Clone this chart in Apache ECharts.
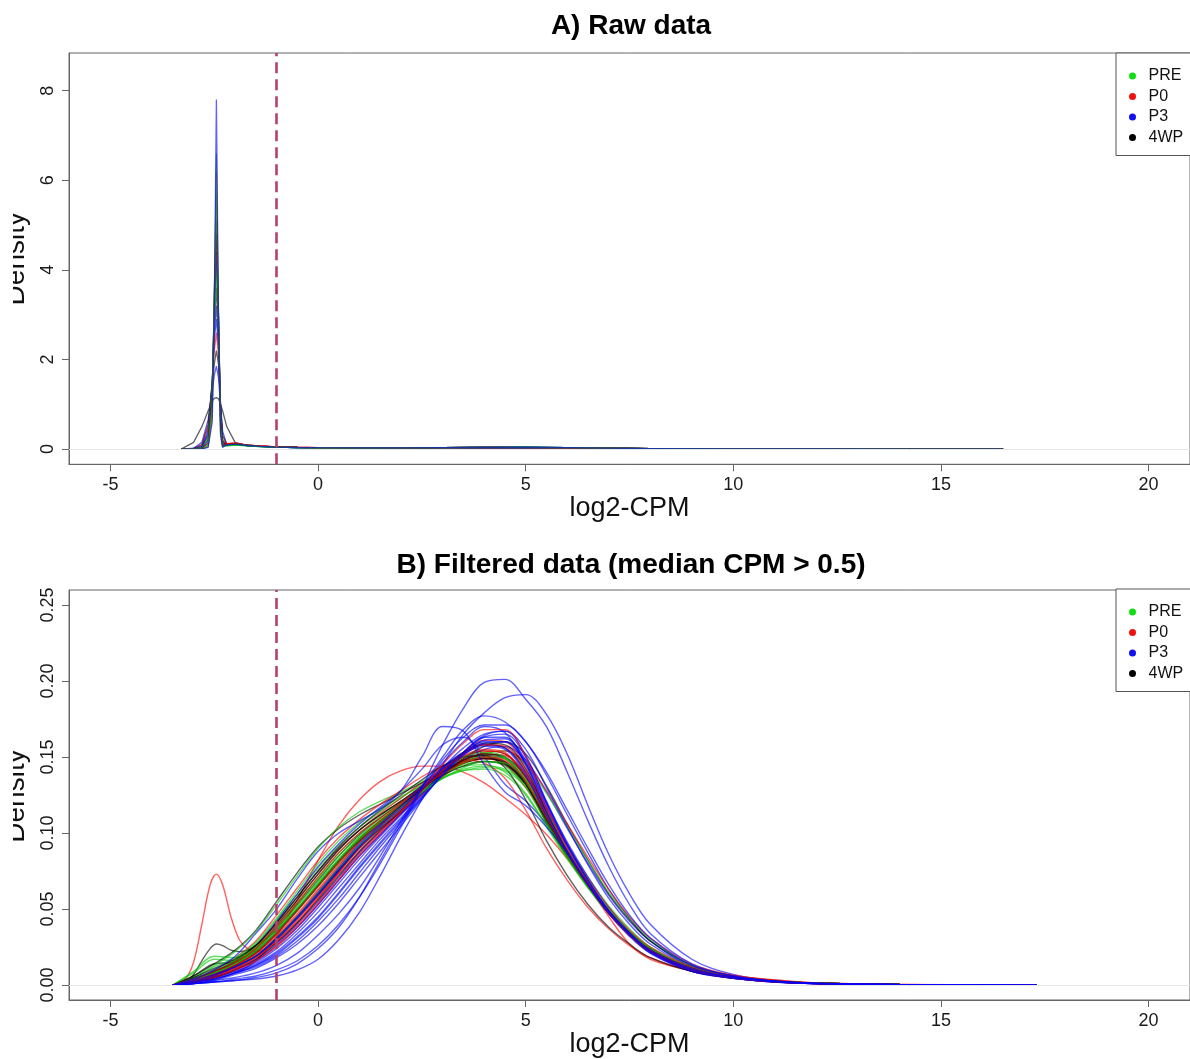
<!DOCTYPE html>
<html><head><meta charset="utf-8">
<script src="https://cdn.jsdelivr.net/npm/echarts@6/dist/echarts.min.js"></script>
<style>html,body{margin:0;padding:0;background:#fff}#c{width:1190px;height:1059px}</style>
</head><body><div id="c"></div>
<script>
// ---------- ticks / labels ----------
const xTicks = [-5, 0, 5, 10, 15, 20];
const yTicksA = [0, 2, 4, 6, 8];
const yTicksB = [0, 0.05, 0.10, 0.15, 0.20, 0.25];
const cutoff = -1;
const groups = ['PRE', 'P0', 'P3', '4WP'];

// ---------- Panel A: raw data (log2-CPM grid + densities) ----------
const xA = [-3.3,-3.0,-2.8,-2.65,-2.55, -2.5,-2.45,-2.4,-2.35,-2.3, -2.2,-2.0,-1.7,-1.4,-1.0, -0.5,0,1,2,3, 4,5,6,7,8, 10,12,14,16.5];
const rawK_wide = [0,.15,.5,.85,1.07, 1.13,1.15,1.12,1.0,.85, .5,.15,.07,.055,.044, .035,.03,.025,.025,.03, .035,.035,.03,.02,.012, .005,.002,.0008,0];
const rawB_185  = [0,.02,.15,.65,1.3, 1.65,1.85,1.6,1.0,.4, .1,.1,.08,.06,.045, .035,.03,.025,.025,.03, .035,.035,.03,.02,.012, .005,.002,.0008,0];
const rawK_22   = [0,.015,.1,.55,1.4, 1.9,2.2,1.9,1.0,.3, .11,.12,.085,.065,.047, .037,.031,.025,.025,.03, .035,.035,.03,.02,.012, .005,.002,.0008,0];
const rawR_26   = [0,.01,.08,.5,1.5, 2.2,2.6,2.1,1.0,.2, .12,.13,.09,.07,.05, .04,.032,.026,.026,.031, .036,.034,.028,.019,.011, .005,.002,.0008,0];
const rawB_29   = [0,.01,.06,.42,1.5, 2.45,2.9,2.3,.95,.18, .09,.11,.08,.06,.045, .035,.03,.025,.025,.03, .035,.035,.03,.02,.012, .005,.002,.0008,0];
const rawB_32   = [0,.008,.05,.35,1.5, 2.6,3.2,2.4,.9,.15, .09,.1,.08,.06,.045, .035,.03,.025,.025,.03, .035,.035,.03,.02,.012, .005,.002,.0008,0];
const rawK_36   = [0,.005,.04,.3,1.45, 2.8,3.6,2.6,.85,.14, .11,.12,.085,.065,.047, .037,.031,.025,.025,.03, .035,.035,.03,.02,.012, .005,.002,.0008,0];
const rawG_39   = [0,.004,.03,.25,1.4, 3.0,3.9,2.7,.8,.12, .08,.1,.075,.058,.044, .035,.03,.025,.025,.03, .035,.035,.03,.02,.012, .005,.002,.0008,0];
const rawG_42   = [0,.003,.025,.22,1.35, 3.1,4.2,2.8,.75,.11, .07,.09,.07,.055,.042, .034,.029,.024,.025,.03, .036,.036,.031,.021,.012, .005,.002,.0008,0];
const rawB_44   = [0,.003,.02,.2,1.3, 3.2,4.4,2.9,.7,.1, .09,.11,.08,.06,.045, .035,.03,.025,.025,.03, .035,.035,.03,.02,.012, .005,.002,.0008,0];
const rawR_48   = [0,.002,.015,.15,1.15, 3.3,4.8,2.95,.65,.09, .12,.13,.09,.07,.05, .04,.032,.026,.026,.031, .036,.034,.028,.019,.011, .005,.002,.0008,0];
const rawK_51   = [0,.002,.012,.13,1.1, 3.4,5.1,3.0,.6,.08, .1,.12,.09,.065,.048, .037,.031,.025,.025,.03, .035,.035,.03,.02,.012, .005,.002,.0008,0];
const rawG_57   = [0,0,.008,.09,1.0, 3.5,5.7,3.1,.5,.06, .07,.09,.07,.055,.042, .034,.029,.024,.025,.03, .036,.036,.031,.021,.012, .005,.002,.0008,0];
const rawR_62   = [0,0,.006,.06,.8, 3.4,6.2,3.0,.4,.05, .12,.13,.09,.07,.05, .04,.032,.026,.026,.031, .036,.034,.028,.019,.011, .005,.002,.0008,0];
const rawG_66   = [0,0,.005,.05,.7, 3.3,6.6,3.0,.35,.045, .09,.11,.08,.06,.045, .035,.03,.025,.025,.03, .035,.035,.03,.02,.012, .005,.002,.0008,0];
const rawB_78   = [0,0,.004,.04,.6, 3.2,7.8,3.0,.3,.04, .09,.11,.08,.06,.045, .035,.03,.025,.025,.03, .035,.035,.03,.02,.012, .005,.002,.0008,0];

const rawCurves = [
  ['4WP', rawK_wide], ['P3', rawB_185], ['4WP', rawK_22], ['P0', rawR_26], ['P3', rawB_29],
  ['P3', rawB_32], ['4WP', rawK_36], ['PRE', rawG_39], ['PRE', rawG_42], ['P3', rawB_44],
  ['P0', rawR_48], ['4WP', rawK_51], ['PRE', rawG_57], ['P0', rawR_62], ['PRE', rawG_66], ['P3', rawB_78]
];

// ---------- Panel B: filtered data ----------
const xB = [-3.5,-3,-2.5,-2,-1.5, -1,-0.5,0,0.5,1, 1.5,2,2.5,3,3.5, 4,4.5,5,5.5,6, 6.5,7,7.5,8,9, 10,11,12,14,17.3];
const xBump = [-3.5,-3.2,-3,-2.8,-2.6, -2.45,-2.3,-2.1,-1.9,-1.7, -1.5,-1,-0.5,0,0.5, 1,1.5,2,2.5,3, 3.5,4,4.5,5,5.5, 6,6.5,7,7.5,8, 9,10,11,12,14, 17.3];

// PRE (green)
const preA = [0,.004,.010,.017,.027, .043,.060,.077,.092,.104, .114,.123,.132,.139,.144, .145,.140,.126,.105,.084, .065,.048,.034,.023,.011, .005,.0025,.0012,.0004,0];
const preB = [0,.005,.012,.018,.028, .044,.062,.080,.095,.107, .116,.124,.131,.137,.141, .142,.138,.125,.104,.083, .064,.047,.033,.022,.011, .005,.0025,.0012,.0004,0];
const preC = [0,.003,.008,.014,.022, .035,.050,.066,.082,.097, .108,.119,.131,.142,.150, .153,.150,.134,.108,.085, .065,.047,.033,.022,.010, .005,.0025,.0012,.0004,0];
const preD = [0,.008,.017,.016,.022, .034,.049,.065,.080,.095, .107,.118,.130,.141,.149, .152,.149,.133,.107,.084, .064,.047,.033,.022,.010, .005,.0025,.0012,.0004,0];
const preE = [0,.004,.009,.015,.024, .038,.054,.071,.087,.100, .111,.120,.129,.136,.141, .143,.141,.130,.109,.087, .067,.049,.035,.024,.011, .005,.0025,.0012,.0004,0];
const preF = [0,.003,.008,.014,.023, .036,.051,.067,.083,.097, .108,.118,.128,.138,.146, .150,.149,.136,.111,.088, .067,.049,.034,.023,.011, .005,.0025,.0012,.0004,0];
const preG = [0,.004,.010,.016,.024, .037,.052,.068,.083,.096, .107,.117,.127,.136,.143, .147,.146,.135,.112,.089, .068,.050,.035,.024,.011, .005,.0025,.0012,.0004,0];
const preH = [0,.009,.019,.018,.025, .038,.054,.070,.085,.098, .109,.119,.128,.136,.142, .144,.142,.132,.113,.092, .071,.052,.037,.025,.012, .0055,.0026,.0012,.0004,0];
const preI = [0,.005,.013,.022,.035, .053,.072,.090,.104,.114, .121,.127,.134,.140,.145, .147,.144,.130,.107,.085, .065,.048,.034,.023,.011, .005,.0025,.0012,.0004,0];
const preJ = [0,.003,.007,.012,.019, .031,.045,.061,.077,.092, .104,.115,.126,.137,.146, .152,.154,.145,.126,.104, .082,.061,.044,.030,.013, .006,.0028,.0013,.0004,0];
// P0 (red)
const p0A = [0,.003,.007,.013,.020, .032,.046,.062,.078,.094, .106,.117,.130,.142,.151, .155,.153,.135,.108,.085, .065,.047,.033,.022,.010, .005,.0025,.0012,.0004,0];
const p0B = [0,.003,.009,.016,.025, .040,.056,.073,.089,.102, .113,.123,.133,.141,.147, .149,.145,.130,.107,.085, .065,.048,.034,.023,.011, .005,.0025,.0012,.0004,0];
const p0C = [0,.002,.005,.010,.016, .025,.038,.053,.069,.085, .099,.113,.127,.141,.153, .161,.160,.143,.114,.088, .066,.047,.033,.022,.010, .005,.0022,.001,.0003,0];
const p0D = [0,.003,.007,.013,.021, .033,.047,.063,.079,.094, .106,.117,.129,.140,.148, .152,.151,.139,.116,.092, .070,.051,.036,.025,.012, .006,.003,.0014,.0005,0];
const p0E = [0,.003,.007,.013,.021, .034,.049,.065,.081,.096, .108,.119,.131,.142,.150, .154,.152,.137,.111,.087, .066,.048,.034,.023,.010, .005,.0025,.0012,.0004,0];
const p0F = [0,.004,.009,.015,.024, .038,.054,.071,.087,.100, .110,.120,.130,.139,.146, .150,.148,.134,.110,.087, .066,.048,.034,.023,.011, .005,.0025,.0012,.0004,0];
const p0G = [0,.002,.006,.011,.018, .029,.043,.058,.074,.090, .103,.115,.128,.141,.152, .158,.157,.140,.112,.087, .066,.047,.033,.022,.010, .005,.0023,.001,.0003,0];
const p0H = [0,.004,.010,.018,.029, .046,.064,.082,.097,.109, .119,.128,.137,.144,.148, .146,.136,.115,.090,.069, .051,.037,.026,.018,.009, .0045,.0022,.001,.0003,0];
const p0I = [0,.002,.006,.011,.018, .029,.042,.057,.073,.088, .101,.113,.125,.137,.147, .153,.154,.146,.128,.106, .084,.063,.045,.031,.014, .0065,.003,.0014,.0004,0];
const p0J = [0,.002,.005,.010,.016, .026,.039,.054,.070,.086, .100,.114,.129,.145,.159, .168,.168,.150,.118,.090, .067,.048,.033,.022,.010, .0047,.0021,.001,.0003,0];
const p0Early = [0,.002,.004,.008,.016, .032,.056,.082,.105,.122, .134,.141,.144,.144,.140, .133,.123,.112,.099,.083, .065,.045,.027,.017,.0095, .006,.0035,.0015,.0004,0];
const p0Bump = [0,.004,.015,.04,.066, .073,.066,.045,.030,.024, .022,.028,.041,.057,.074, .091,.105,.117,.129,.139, .146,.149,.147,.133,.108, .085,.065,.047,.033,.022, .010,.005,.0025,.0012,.0004, 0];
// P3 (blue)
const p3A = [0,.002,.006,.012,.019, .030,.044,.059,.075,.091, .104,.116,.129,.142,.152, .157,.155,.138,.111,.087, .066,.047,.033,.022,.010, .005,.0025,.0012,.0004,0];
const p3B = [0,.002,.005,.009,.014, .022,.034,.048,.064,.080, .096,.110,.125,.140,.153, .163,.163,.145,.114,.088, .066,.047,.032,.021,.009, .0045,.002,.001,.0003,0];
const p3C = [0,.001,.004,.008,.012, .019,.029,.042,.057,.074, .091,.107,.123,.139,.153, .164,.167,.151,.120,.092, .068,.048,.033,.021,.009, .0045,.002,.001,.0003,0];
const p3D = [0,.002,.004,.008,.013, .021,.032,.045,.061,.078, .094,.109,.124,.139,.152, .161,.162,.148,.120,.094, .071,.051,.035,.023,.010, .005,.0022,.001,.0003,0];
const p3E = [0,.002,.005,.009,.015, .024,.036,.051,.067,.083, .098,.112,.126,.140,.152, .160,.160,.145,.117,.091, .068,.049,.034,.022,.010, .005,.0022,.001,.0003,0];
const p3F = [0,.001,.003,.007,.011, .018,.027,.039,.054,.071, .088,.105,.122,.139,.153, .163,.165,.150,.121,.093, .069,.049,.034,.022,.009, .0045,.002,.001,.0003,0];
const p3G = [0,.003,.007,.012,.019, .031,.045,.061,.077,.093, .106,.118,.131,.143,.153, .158,.156,.140,.113,.088, .067,.048,.034,.022,.010, .005,.0024,.0011,.0003,0];
const p3I = [0,.002,.004,.008,.013, .020,.031,.044,.060,.077, .093,.108,.123,.138,.151, .159,.160,.146,.119,.092, .069,.049,.034,.022,.010, .0047,.0021,.001,.0003,0];
const p3J = [0,.002,.006,.011,.017, .027,.040,.055,.071,.087, .101,.115,.130,.146,.160, .170,.166,.146,.116,.089, .067,.048,.033,.022,.010, .0047,.0021,.001,.0003,0];
const p3K = [0,.003,.007,.012,.019, .031,.045,.060,.076,.091, .103,.114,.126,.138,.148, .155,.157,.148,.127,.103, .080,.059,.042,.029,.013, .006,.0028,.0013,.0004,0];
const p3L = [0,.002,.005,.010,.016, .026,.038,.053,.069,.085, .099,.113,.128,.143,.156, .165,.167,.155,.130,.104, .079,.057,.040,.027,.012, .0055,.0025,.0011,.0003,0];
const p3High1 = [0,.001,.002,.003,.005, .008,.014,.024,.038,.058, .082,.106,.130,.158,.182, .199,.201,.188,.170,.140, .108,.078,.053,.034,.014, .006,.0025,.001,.0003,0];
const p3High2 = [0,.001,.002,.003,.004, .006,.010,.017,.030,.048, .072,.098,.122,.145,.165, .179,.189,.191,.178,.152, .118,.086,.060,.040,.017, .007,.003,.0012,.0003,0];
const p3Mid1 = [0,.001,.003,.005,.008, .013,.021,.033,.047,.064, .085,.108,.130,.150,.168, .177,.173,.160,.140,.115, .090,.066,.046,.031,.013, .006,.0025,.001,.0003,0];
const p3Mid2 = [0,.001,.002,.004,.006, .010,.016,.026,.040,.058, .080,.104,.128,.148,.163, .171,.171,.160,.138,.112, .087,.063,.044,.029,.012, .0055,.0024,.001,.0003,0];
const p3Early1 = [0,.004,.010,.019,.034, .050,.070,.088,.100,.108, .116,.128,.150,.170,.167, .145,.127,.118,.104,.087, .066,.048,.034,.023,.011, .005,.0025,.0012,.0004,0];
const p3Early2 = [0,.003,.008,.015,.026, .042,.060,.078,.093,.106, .117,.128,.142,.158,.163, .150,.132,.121,.106,.088, .067,.049,.034,.023,.011, .005,.0025,.0012,.0004,0];
// 4WP (black)
const wpA = [0,.006,.014,.015,.023, .037,.053,.069,.085,.099, .110,.120,.130,.139,.146, .149,.146,.132,.107,.085, .065,.048,.034,.023,.011, .005,.0025,.0012,.0004,0];
const wpB = [0,.003,.008,.014,.022, .035,.050,.066,.082,.096, .108,.118,.130,.141,.150, .154,.152,.137,.110,.086, .066,.048,.034,.023,.010, .005,.0025,.0012,.0004,0];
const wpC = [0,.004,.009,.015,.024, .039,.056,.073,.089,.102, .112,.121,.131,.140,.147, .150,.147,.133,.108,.085, .065,.048,.034,.023,.011, .005,.0025,.0012,.0004,0];
const wpD = [0,.002,.006,.012,.019, .031,.045,.060,.076,.092, .105,.117,.130,.143,.153, .158,.156,.140,.112,.087, .066,.048,.033,.022,.010, .005,.0024,.0011,.0003,0];
const wpE = [0,.003,.007,.013,.021, .034,.049,.065,.081,.095, .107,.118,.129,.140,.148, .152,.150,.137,.112,.088, .067,.049,.034,.023,.011, .005,.0025,.0012,.0004,0];
const wpF = [0,.005,.011,.017,.026, .041,.058,.075,.090,.102, .112,.121,.130,.138,.144, .147,.145,.132,.109,.087, .066,.049,.035,.024,.011, .005,.0025,.0012,.0004,0];
const wpG = [0,.002,.005,.010,.017, .028,.041,.056,.072,.088, .102,.115,.128,.141,.152, .159,.158,.142,.114,.088, .067,.048,.033,.022,.010, .005,.0023,.0011,.0003,0];
const wpH = [0,.006,.014,.023,.036, .055,.074,.091,.103,.112, .119,.126,.133,.140,.146, .149,.146,.132,.108,.086, .066,.048,.034,.023,.011, .005,.0025,.0012,.0004,0];
const wpI = [0,.004,.009,.016,.026, .041,.058,.075,.091,.104, .115,.125,.135,.144,.150, .151,.143,.122,.095,.072, .053,.038,.027,.018,.009, .0045,.0022,.001,.0003,0];
const wpJ = [0,.003,.007,.012,.019, .030,.044,.059,.075,.090, .103,.114,.126,.138,.149, .157,.160,.152,.131,.106, .082,.060,.043,.029,.013, .006,.0027,.0012,.0004,0];
const wpBump = [0,.002,.007,.016,.024, .027,.026,.023,.022,.023, .026,.036,.050,.066,.082, .096,.108,.119,.130,.140, .148,.151,.149,.134,.109, .086,.065,.048,.034,.023, .011,.005,.0025,.0012,.0004, 0];

const filtCurves = [
  ['P3', xB, p3High2], ['PRE', xB, preA], ['P0', xBump, p0Bump], ['4WP', xBump, wpBump], ['P3', xB, p3Mid2],
  ['P0', xB, p0Early], ['P3', xB, p3Early2], ['4WP', xB, wpA], ['PRE', xB, preD], ['P3', xB, p3K],
  ['P0', xB, p0A], ['4WP', xB, wpB], ['PRE', xB, preE], ['P3', xB, p3B], ['P0', xB, p0B],
  ['4WP', xB, wpH], ['PRE', xB, preI], ['P0', xB, p0H], ['P3', xB, p3J], ['4WP', xB, wpJ],
  ['4WP', xB, wpC], ['PRE', xB, preB], ['P3', xB, p3C], ['P0', xB, p0C], ['4WP', xB, wpD],
  ['PRE', xB, preJ], ['P0', xB, p0I], ['P3', xB, p3L], ['4WP', xB, wpI], ['PRE', xB, preH],
  ['PRE', xB, preF], ['P3', xB, p3D], ['P0', xB, p0D], ['4WP', xB, wpE], ['PRE', xB, preC],
  ['P3', xB, p3E], ['P0', xB, p0E], ['4WP', xB, wpF], ['PRE', xB, preG], ['P3', xB, p3F],
  ['P0', xB, p0F], ['4WP', xB, wpG], ['P3', xB, p3G], ['P0', xB, p0G], ['P0', xB, p0J], ['P3', xB, p3I],
  ['P3', xB, p3A], ['P3', xB, p3Early1], ['P3', xB, p3Mid1], ['P3', xB, p3High1]
];

// ---------- styling ----------
const FONT = '"Liberation Sans", Arial, Helvetica, sans-serif';
const lineCol = { 'PRE': 'rgba(0,200,0,0.62)', 'P0': 'rgba(255,0,0,0.62)', 'P3': 'rgba(0,0,255,0.62)', '4WP': 'rgba(0,0,0,0.62)' };
const dotCol = { 'PRE': '#11dd11', 'P0': '#ee1111', 'P3': '#1111ee', '4WP': '#000000' };

const chart = echarts.init(document.getElementById('c'), null, { renderer: 'canvas' });

function curveSeries(grp, xs, ys, idx, smooth, width) {
  return {
    type: 'line', name: grp, xAxisIndex: idx, yAxisIndex: idx,
    data: xs.map((x, i) => [x, ys[i]]),
    showSymbol: false, symbol: 'none', smooth: smooth,
    lineStyle: { color: lineCol[grp], width: width },
    itemStyle: { color: dotCol[grp] },
    silent: true, animation: false, z: 2
  };
}

const series = [];
[0, 1].forEach(idx => {
  series.push({
    type: 'line', name: 'zero' + idx, xAxisIndex: idx, yAxisIndex: idx, data: [], z: 1,
    markLine: { silent: true, symbol: 'none', animation: false, label: { show: false },
      lineStyle: { color: '#e6e6e6', width: 1, type: 'solid' }, data: [{ yAxis: 0 }] }
  });
});
rawCurves.forEach(([g, ys]) => series.push(curveSeries(g, xA, ys, 0, false, 1.3)));
filtCurves.forEach(([g, xs, ys]) => series.push(curveSeries(g, xs, ys, 1, 0.35, 1.4)));
[0, 1].forEach(idx => {
  series.push({
    type: 'line', name: 'cutoff' + idx, xAxisIndex: idx, yAxisIndex: idx, data: [], z: 5,
    markLine: { silent: true, symbol: 'none', animation: false, label: { show: false },
      lineStyle: { color: '#b5406a', width: 2.6, type: [11, 6] }, data: [{ xAxis: cutoff }] }
  });
});

function xAxisDef(idx) {
  return {
    type: 'value', gridIndex: idx, min: -6, max: 21,
    axisLine: { show: true, onZero: false, lineStyle: { color: '#666', width: 1 } },
    axisTick: { show: true, length: 7, customValues: xTicks, lineStyle: { color: '#666' } },
    axisLabel: { customValues: xTicks, fontSize: 18, color: '#1a1a1a', margin: 12, fontFamily: FONT },
    splitLine: { show: false },
    name: 'log2-CPM', nameLocation: 'middle', nameGap: 31,
    nameTextStyle: { fontSize: 27, color: '#111', fontFamily: FONT }
  };
}
function yAxisDef(idx, min, max, ticks, fmt) {
  return {
    type: 'value', gridIndex: idx, min: min, max: max,
    axisLine: { show: true, onZero: false, lineStyle: { color: '#666', width: 1 } },
    axisTick: { show: true, length: 7, customValues: ticks, lineStyle: { color: '#666' } },
    axisLabel: { customValues: ticks, rotate: 90, fontSize: 18, color: '#1a1a1a', margin: 12,
      fontFamily: FONT, formatter: fmt },
    splitLine: { show: false }
  };
}

const legendData = groups.map(g => ({ name: g, itemStyle: { color: dotCol[g] } }));
function legendDef(top) {
  return {
    data: legendData, orient: 'vertical', left: 1116, top: top,
    icon: 'circle', itemWidth: 22, itemHeight: 7, itemGap: 0.5,
    padding: [13, 70, 8, 13], borderColor: '#555', borderWidth: 1, borderRadius: 0,
    backgroundColor: '#fff', selectedMode: false,
    textStyle: { fontSize: 16, color: '#111', lineHeight: 20, fontFamily: FONT }
  };
}

chart.setOption({
  animation: false,
  textStyle: { fontFamily: FONT },
  title: [
    { text: 'A) Raw data', left: 631, top: 12, textAlign: 'center', padding: 0,
      textStyle: { fontSize: 28, fontWeight: 'bold', color: '#000', fontFamily: FONT } },
    { text: 'B) Filtered data (median CPM > 0.5)', left: 631, top: 551, textAlign: 'center', padding: 0,
      textStyle: { fontSize: 28, fontWeight: 'bold', color: '#000', fontFamily: FONT } }
  ],
  grid: [
    { left: 69, top: 53, width: 1123.6, height: 411.3, show: true, borderColor: '#666', borderWidth: 1, containLabel: false },
    { left: 69, top: 590, width: 1123.6, height: 411.7, show: true, borderColor: '#666', borderWidth: 1, containLabel: false }
  ],
  xAxis: [xAxisDef(0), xAxisDef(1)],
  yAxis: [
    yAxisDef(0, -0.34, 8.84, yTicksA, v => String(v)),
    yAxisDef(1, -0.0098, 0.2598, yTicksB, v => v.toFixed(2))
  ],
  legend: [legendDef(53), legendDef(589)],
  graphic: [
    { type: 'text', x: 30, y: 258.7, rotation: Math.PI / 2, z: 50,
      style: { text: 'Density', fontSize: 28, fontFamily: FONT, fill: '#111', align: 'center', verticalAlign: 'bottom' } },
    { type: 'text', x: 30, y: 796, rotation: Math.PI / 2, z: 50,
      style: { text: 'Density', fontSize: 28, fontFamily: FONT, fill: '#111', align: 'center', verticalAlign: 'bottom' } },
    { type: 'rect', z: 60, shape: { x: 0, y: 180, width: 13, height: 160 }, style: { fill: '#fff' } },
    { type: 'rect', z: 60, shape: { x: 0, y: 716, width: 13, height: 160 }, style: { fill: '#fff' } }
  ],
  series: series
});
</script>
</body></html>
